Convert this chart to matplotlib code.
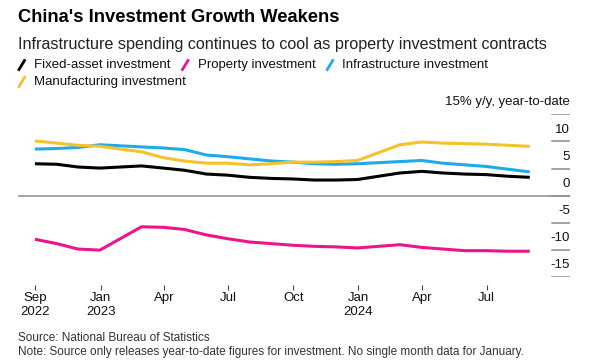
import pandas as pd
import matplotlib.pyplot as plt
from matplotlib.lines import Line2D

plt.rcParams['font.family'] = ['Liberation Sans', 'DejaVu Sans']

# year-to-date data, Jan and Feb are released together
months = ['2022-09', '2022-10', '2022-11', '2022-12',
          '2023-02', '2023-03', '2023-04', '2023-05', '2023-06', '2023-07',
          '2023-08', '2023-09', '2023-10', '2023-11', '2023-12',
          '2024-02', '2024-03', '2024-04', '2024-05', '2024-06', '2024-07',
          '2024-08']
fixed_asset = [5.9, 5.8, 5.3, 5.1, 5.5, 5.1, 4.7, 4.0, 3.8, 3.4, 3.2, 3.1,
               2.9, 2.9, 3.0, 4.2, 4.5, 4.2, 4.0, 3.9, 3.6, 3.4]
property_inv = [-8.0, -8.8, -9.8, -10.0, -5.7, -5.8, -6.2, -7.2, -7.9, -8.5,
                -8.8, -9.1, -9.3, -9.4, -9.6, -9.0, -9.5, -9.8, -10.1, -10.1,
                -10.2, -10.2]
infrastructure = [8.6, 8.7, 8.9, 9.4, 9.0, 8.8, 8.5, 7.5, 7.2, 6.8, 6.4, 6.2,
                  5.9, 5.8, 5.9, 6.3, 6.5, 6.0, 5.7, 5.4, 4.9, 4.4]
manufacturing = [10.1, 9.7, 9.3, 9.1, 8.1, 7.0, 6.4, 6.0, 6.0, 5.7, 5.9, 6.2,
                 6.2, 6.3, 6.5, 9.4, 9.9, 9.7, 9.6, 9.5, 9.3, 9.1]

series_names = ['Fixed-asset investment', 'Property investment',
                'Infrastructure investment', 'Manufacturing investment']
series_colors = ['#000000', '#ec148c', '#1eaaeb', '#f5c22c']

tick_dates = ['2022-09-30', '2023-01-01', '2023-04-01', '2023-07-01',
              '2023-10-01', '2024-01-01', '2024-04-01', '2024-07-01']
tick_labels = ['Sep\n2022', 'Jan\n2023', 'Apr', 'Jul', 'Oct', 'Jan\n2024',
               'Apr', 'Jul']
y_ticks = [15, 10, 5, 0, -5, -10, -15]

dates = pd.to_datetime(months) + pd.offsets.MonthEnd(0)

W, H = 600, 364
fig = plt.figure(figsize=(W / 100, H / 100), dpi=100)
ax = fig.add_axes([18 / W, 1 - 277.3 / H, 552 / W, 163 / H])

for vals, c in zip([fixed_asset, property_inv, infrastructure, manufacturing],
                   series_colors):
    ax.plot(dates, vals, color=c, lw=2.2, solid_joinstyle='round',
            solid_capstyle='butt', zorder=3)

ax.set_xlim(pd.Timestamp('2022-09-06'), pd.Timestamp('2024-10-27'))
ax.set_ylim(-15, 15)

for s in ax.spines.values():
    s.set_visible(False)
ax.spines['bottom'].set_position(('outward', 5.5))
ax.set_xticks(pd.to_datetime(tick_dates))
ax.set_xticklabels(tick_labels)
ax.tick_params(axis='x', length=3.6, width=0.8, color='#444', pad=1.5,
               labelsize=9.5, labelcolor='#111')
for lab in ax.get_xticklabels():
    lab.set_linespacing(1.25)
ax.set_yticks([])

ax.axhline(0, color='#8c8c8c', lw=1.1, zorder=2)
for v in y_ticks:
    ax.axhline(v, xmin=534 / 552, xmax=1, color='#8c8c8c', lw=1.1)
    label = '15% y/y, year-to-date' if v == 15 else str(v)
    ax.text(1, v + 2.2, label, transform=ax.get_yaxis_transform(),
            ha='right', va='center', fontsize=9.5, color='#111')

fig.text(18 / W, 1 - 18 / H, "China's Investment Growth Weakens",
         fontsize=13.2, fontweight='bold', va='center', color='#000')
fig.text(18 / W, 1 - 44 / H,
         'Infrastructure spending continues to cool as property investment contracts',
         fontsize=11.6, va='center', color='#222')

# legend laid out in rows
renderer = fig.canvas.get_renderer()
x, y = 18, 65
for name, c in zip(series_names, series_colors):
    t = fig.text(0, 0, name, fontsize=9.5, va='center', color='#111')
    w = t.get_window_extent(renderer).width
    if x + 15 + w > 580:
        x, y = 18, y + 17
    fig.add_artist(Line2D([(x + 1) / W, (x + 6.5) / W],
                          [1 - (y + 4.5) / H, 1 - (y - 4.5) / H],
                          color=c, lw=2.0, transform=fig.transFigure))
    t.set_position(((x + 16) / W, 1 - y / H))
    x += 16 + w + 11

fig.text(18 / W, 1 - 338 / H, 'Source: National Bureau of Statistics',
         fontsize=8.5, va='center', color='#333')
fig.text(18 / W, 1 - 352 / H,
         'Note: Source only releases year-to-date figures for investment. '
         'No single month data for January.',
         fontsize=8.5, va='center', color='#333')

fig.savefig('out.png', dpi=100)
